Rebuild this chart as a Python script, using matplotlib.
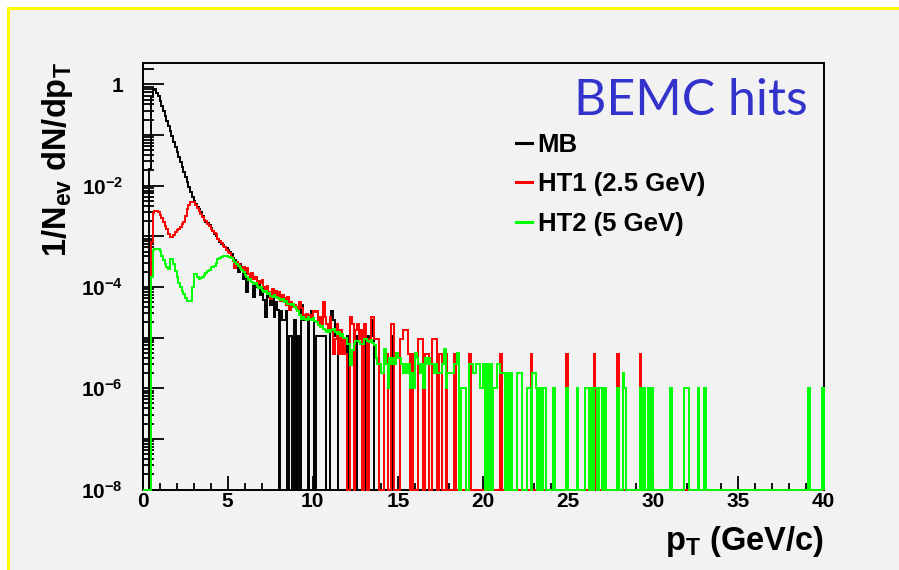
import numpy as np
import matplotlib
matplotlib.use('Agg')
import matplotlib.pyplot as plt
from matplotlib.patches import Rectangle
from matplotlib.ticker import MultipleLocator, LogLocator, FuncFormatter

# -----------------------------------------------------------------------------
# BEMC hits: 1/N_ev dN/dpT, 0.1 GeV bins from 0 to 40 GeV/c.
# None = empty bin. "low" lists start at bin 0 (pT = 0.0), the "tail" lists
# give the lower bin edge (GeV/c) of each filled bin further out.

BIN_WIDTH = 0.1
PT_MAX = 40.0

mb_low = [
    None, None, None, None, -1.67, -0.25, -0.12, -0.10, -0.17, -0.24,
    -0.32, -0.42, -0.52, -0.62, -0.72, -0.82, -0.92, -1.03, -1.13, -1.23,
    -1.33, -1.43, -1.53, -1.63, -1.73, -1.83, -1.93, -2.03, -2.13, -2.22,
    -2.30, -2.36, -2.42, -2.47, -2.52, -2.60, -2.68, -2.72, -2.74, -2.78,
    -2.84, -2.90, -2.95, -3.00, -3.06, -3.12, -3.15, -3.18, -3.22, -3.24,
    -3.28, -3.32, -3.36, -3.42, -3.46, -3.50, -3.70, -3.55, -3.62, -3.85,
    -3.70, -4.10, -3.80, -3.85, -3.90, -4.20, -3.95, -4.00, -3.95, -4.15,
    -4.05, -4.25, -4.60, -4.10, -4.20, -4.35, -4.20, -4.60, -4.30, -4.45,
]
mb_tail_pt = [8.1, 8.2, 8.3, 8.4, 8.6, 8.7, 8.9, 9.1, 9.3, 9.4, 9.5, 9.6,
              9.8, 9.9, 10.0, 10.2, 10.3, 10.4, 10.5, 10.6, 10.7, 11.0, 11.1,
              11.2, 11.3, 11.4, 12.0, 12.4, 12.5, 13.1, 13.3, 13.4, 13.5, 14.6]
mb_tail_log = [-4.48, -4.66, -4.66, -4.48, -4.96, -4.96, -4.66, -4.96, -4.36,
               -4.66, -4.66, -4.66, -4.66, -4.48, -4.66, -4.96, -4.96, -4.96,
               -4.96, -4.96, -4.96, -4.66, -4.48, -4.66, -4.96, -4.96, -4.96,
               -4.96, -4.96, -4.96, -4.96, -4.66, -4.96, -4.96]

ht1_low = [
    None, None, None, None, None, -3.12, -2.55, -2.50, -2.50, -2.52,
    -2.58, -2.64, -2.72, -2.80, -2.86, -2.95, -3.02, -3.02, -2.98, -2.92,
    -2.88, -2.86, -2.82, -2.76, -2.72, -2.60, -2.46, -2.38, -2.33, -2.32,
    -2.33, -2.38, -2.44, -2.50, -2.56, -2.62, -2.68, -2.70, -2.76, -2.80,
    -2.86, -2.90, -2.93, -2.96, -3.05, -3.10, -3.14, -3.20, -3.22, -3.28,
    -3.32, -3.34, -3.40, -3.48, -3.62, -3.50, -3.55, -3.60, -3.64, -3.60,
    -3.70, -3.62, -3.75, -3.80, -3.72, -3.85, -3.80, -3.95, -3.88, -3.92,
    -3.87, -4.00, -4.05, -3.98, -4.10, -4.23, -4.05, -4.15, -4.08, -4.20,
    -4.10, -4.27, -4.15, -4.22, -4.35, -4.20, -4.45, -4.30, -4.40, -4.35,
    -4.40, -4.48, -4.30, -4.42, -4.55, -4.60, -4.53, -4.63, -4.55, -4.60,
    -4.47, -4.50, -4.47, -4.73, -4.60, -4.73, -4.30, -4.60, -4.73, -4.86,
    -4.60, -4.86, -5.33, -5.03, -4.73, -5.33, -4.86, -5.33, -5.03, -5.33,
]
ht1_tail_pt = [12.2, 12.3, 12.5, 12.6, 12.7, 12.8, 13.0, 13.1, 13.3, 13.4,
               13.5, 13.6, 13.7, 13.8, 14.2, 14.3, 14.6, 14.7, 15.1, 15.2,
               15.3, 15.4, 15.5, 15.6, 15.8, 16.2, 16.3, 16.4, 16.6, 16.7,
               17.0, 17.1, 17.2, 17.4, 17.5, 17.8, 18.3, 19.2, 21.0, 22.8,
               24.9, 26.5, 27.9, 29.2]
ht1_tail_log = [-4.60, -4.73, -4.86, -4.73, -5.03, -4.86, -4.73, -5.03, -5.03,
                -4.60, -4.60, -5.03, -5.03, -5.03, -5.33, -5.33, -4.73, -4.73,
                -5.03, -5.03, -4.86, -4.86, -4.86, -5.33, -5.33, -5.03, -5.03,
                -5.03, -5.33, -5.33, -5.03, -5.03, -5.03, -5.33, -5.33, -5.33,
                -5.33, -5.33, -5.33, -5.33, -5.33, -5.33, -5.33, -5.33]

ht2_low = [
    None, None, None, None, None, -3.80, -3.28, -3.25, -3.25, -3.26,
    -3.30, -3.38, -3.46, -3.54, -3.60, -3.64, -3.45, -3.45, -3.55, -3.68,
    -3.81, -3.92, -4.01, -4.08, -4.14, -4.22, -4.27, -4.27, -4.27, -4.01,
    -3.74, -3.74, -3.80, -3.84, -3.82, -3.80, -3.77, -3.72, -3.68, -3.66,
    -3.61, -3.60, -3.58, -3.52, -3.45, -3.43, -3.40, -3.38, -3.38, -3.38,
    -3.40, -3.41, -3.42, -3.46, -3.50, -3.54, -3.58, -3.62, -3.66, -3.70,
    -3.76, -3.80, -3.86, -3.84, -3.90, -3.94, -3.92, -3.98, -4.02, -4.00,
    -4.06, -4.10, -4.08, -4.14, -4.12, -4.18, -4.20, -4.16, -4.20, -4.22,
    -4.24, -4.26, -4.24, -4.30, -4.28, -4.33, -4.33, -4.36, -4.33, -4.40,
    -4.43, -4.48, -4.55, -4.63, -4.60, -4.63, -4.66, -4.60, -4.63, -4.66,
    -4.62, -4.68, -4.70, -4.75, -4.80, -4.78, -4.84, -4.86, -4.89, -4.86,
    -4.90, -4.86, -4.84, -4.90, -4.93, -4.90, -4.96, -4.93, -5.00, -5.00,
    -5.13, -5.13, -5.55, -5.25, -5.13, -5.06, -5.06, -5.09, -5.13, -5.13,
    -5.03, -5.03, -5.06, -5.09,
]
ht2_tail_pt = [13.4, 13.5, 13.6, 13.7, 13.8, 13.9, 14.0, 14.1, 14.2, 14.3,
               14.4, 14.5, 14.6, 14.7, 14.8, 14.9, 15.0, 15.1, 15.2, 15.3,
               15.4, 15.5, 15.6, 15.7, 15.8, 15.9, 16.0, 16.1, 16.2, 16.3,
               16.4, 16.5, 16.6, 16.7, 16.8, 16.9, 17.0, 17.1, 17.2, 17.3,
               17.4, 17.5, 17.6, 17.7, 17.8, 17.9, 18.0, 18.1, 18.2, 18.3,
               18.4, 18.5, 18.7, 18.8, 18.9, 19.2, 19.3, 19.4, 19.5, 19.6,
               19.7, 19.8, 19.9, 20.0, 20.2, 20.4, 20.6, 20.7, 20.8, 20.9,
               21.0, 21.1, 21.2, 21.4, 21.6, 22.0, 22.1, 22.2, 22.6, 22.7,
               22.9, 23.0, 23.1, 23.3, 23.5, 23.6, 24.1, 24.9, 25.5, 26.0,
               26.1, 26.3, 26.5, 26.6, 26.8, 26.9, 27.1, 27.9, 28.2, 28.3,
               29.2, 29.4, 29.7, 29.9, 31.0, 31.8, 31.9, 32.0, 32.6, 33.0,
               39.1, 39.9]
ht2_tail_log = [-5.05, -5.10, -5.15, -5.40, -5.52, -5.52, -5.70, -5.70, -5.22,
                -5.52, -6.00, -5.40, -5.52, -5.40, -5.52, -5.30, -5.40, -5.40,
                -5.52, -5.70, -5.52, -5.70, -5.52, -6.00, -5.70, -6.00, -5.30,
                -5.40, -5.52, -5.70, -5.52, -6.00, -5.40, -5.52, -5.40, -5.52,
                -5.52, -5.70, -5.52, -5.70, -5.70, -5.70, -5.52, -5.22, -6.00,
                -5.70, -5.70, -5.70, -5.70, -5.52, -5.52, -5.30, -6.00, -6.00,
                -6.00, -5.52, -5.52, -5.70, -5.70, -5.52, -5.52, -6.00, -6.00,
                -5.52, -5.52, -5.52, -6.00, -6.00, -5.52, -5.52, -5.70, -5.70,
                -5.70, -5.70, -5.70, -5.70, -5.70, -5.70, -6.00, -6.00, -5.70,
                -5.70, -6.00, -6.00, -6.00, -6.00, -6.00, -6.00, -6.00, -6.00,
                -6.00, -6.00, -6.00, -6.00, -6.00, -6.00, -6.00, -6.00, -5.70,
                -6.00, -6.00, -6.00, -6.00, -6.00, -6.00, -6.00, -6.00, -6.00,
                -6.00, -6.00, -6.00, -6.00]

labels = ['MB', 'HT1 (2.5 GeV)', 'HT2 (5 GeV)']
colors = ['#000000', '#ff0000', '#00ff00']

# -----------------------------------------------------------------------------

def build(low, tail_pt, tail_log):
    """Fill a full 0-40 GeV histogram from the read-off bins."""
    n_bins = int(round(PT_MAX / BIN_WIDTH))
    vals = np.zeros(n_bins)
    for i, lg in enumerate(low):
        if lg is not None:
            vals[i] = 10.0 ** lg
    for pt, lg in zip(tail_pt, tail_log):
        vals[int(round(pt / BIN_WIDTH))] = 10.0 ** lg
    return vals


plt.rcParams['font.family'] = ['Liberation Sans', 'DejaVu Sans']
plt.rcParams['font.weight'] = 'bold'
plt.rcParams['mathtext.fontset'] = 'custom'
plt.rcParams['mathtext.rm'] = 'Liberation Sans:bold'
plt.rcParams['mathtext.it'] = 'Liberation Sans:bold'
plt.rcParams['mathtext.bf'] = 'Liberation Sans:bold'
plt.rcParams['mathtext.default'] = 'rm'

W, H = 899, 570
YMIN, YMAX = 1e-8, 2.6
BG = '#f2f2f2'

fig = plt.figure(figsize=(W / 100, H / 100), dpi=100, facecolor='white')
# slide-style panel with yellow border on top / left
fig.patches.append(Rectangle((7.5 / W, -0.1), 1.2, 1.1 - 8.5 / H,
                             transform=fig.transFigure, facecolor=BG,
                             edgecolor='#ffff00', linewidth=2.2, zorder=-10))

ax = fig.add_axes([142.5 / W, 1 - 489.5 / H, 681.0 / W, 426.2 / H])
ax.set_facecolor(BG)
ax.set_yscale('log')

edges = np.linspace(0.0, PT_MAX, int(round(PT_MAX / BIN_WIDTH)) + 1)
series = [build(mb_low, mb_tail_pt, mb_tail_log),
          build(ht1_low, ht1_tail_pt, ht1_tail_log),
          build(ht2_low, ht2_tail_pt, ht2_tail_log)]

for vals, lab, col in zip(series, labels, colors):
    shown = np.where(vals > 0, vals, YMIN)   # empty bins sit on the frame
    ax.stairs(shown, edges, baseline=YMIN, color=col, linewidth=1.4,
              label=lab, zorder=3, clip_on=False)

ax.set_xlim(0, PT_MAX)
ax.set_ylim(YMIN, YMAX)

# ROOT-like ticks: inward, bottom / left only
ax.xaxis.set_major_locator(MultipleLocator(5))
ax.xaxis.set_minor_locator(MultipleLocator(1))
ax.yaxis.set_major_locator(LogLocator(base=10, numticks=30))
ax.yaxis.set_minor_locator(LogLocator(base=10, subs=np.arange(2, 10), numticks=30))


def ylab(v, pos):
    e = int(round(np.log10(v)))
    if e % 2:
        return ''
    return '1' if e == 0 else r'$10^{%d}$' % e


ax.yaxis.set_major_formatter(FuncFormatter(ylab))
ax.yaxis.set_minor_formatter(FuncFormatter(lambda v, p: ''))
ax.tick_params(which='both', direction='in', top=False, right=False,
               width=1.3, color='black', labelsize=15)
ax.tick_params(axis='x', which='major', length=10, pad=1.5)
ax.tick_params(axis='x', which='minor', length=5)
ax.tick_params(axis='y', which='major', length=15, pad=14)
ax.tick_params(axis='y', which='minor', length=8)
for sp in ax.spines.values():
    sp.set_linewidth(1.4)

leg = ax.legend(loc='upper left', bbox_to_anchor=(516 / W, 1 - 133 / H),
                bbox_transform=fig.transFigure, frameon=False, fontsize=18.5,
                handlelength=0.62, handletextpad=0.22, borderpad=0,
                borderaxespad=0, labelspacing=0.6)
for line in leg.get_lines():
    line.set_linewidth(2.2)

fig.text(808 / W, 1 - 115 / H, 'BEMC hits', ha='right', va='baseline',
         color='#3333cc', fontsize=36, fontweight='normal', family='Lato')
fig.text(824 / W, 1 - 550 / H, r'p$_{T}$ (GeV/c)', ha='right', va='baseline',
         fontsize=23.5)
fig.text(57.5 / W, 1 - 62 / H, r'1/N$_{ev}$ dN/dp$_{T}$', rotation=90,
         ha='center', va='top', fontsize=23.5)

fig.savefig('out.png', dpi=100, facecolor=fig.get_facecolor())
